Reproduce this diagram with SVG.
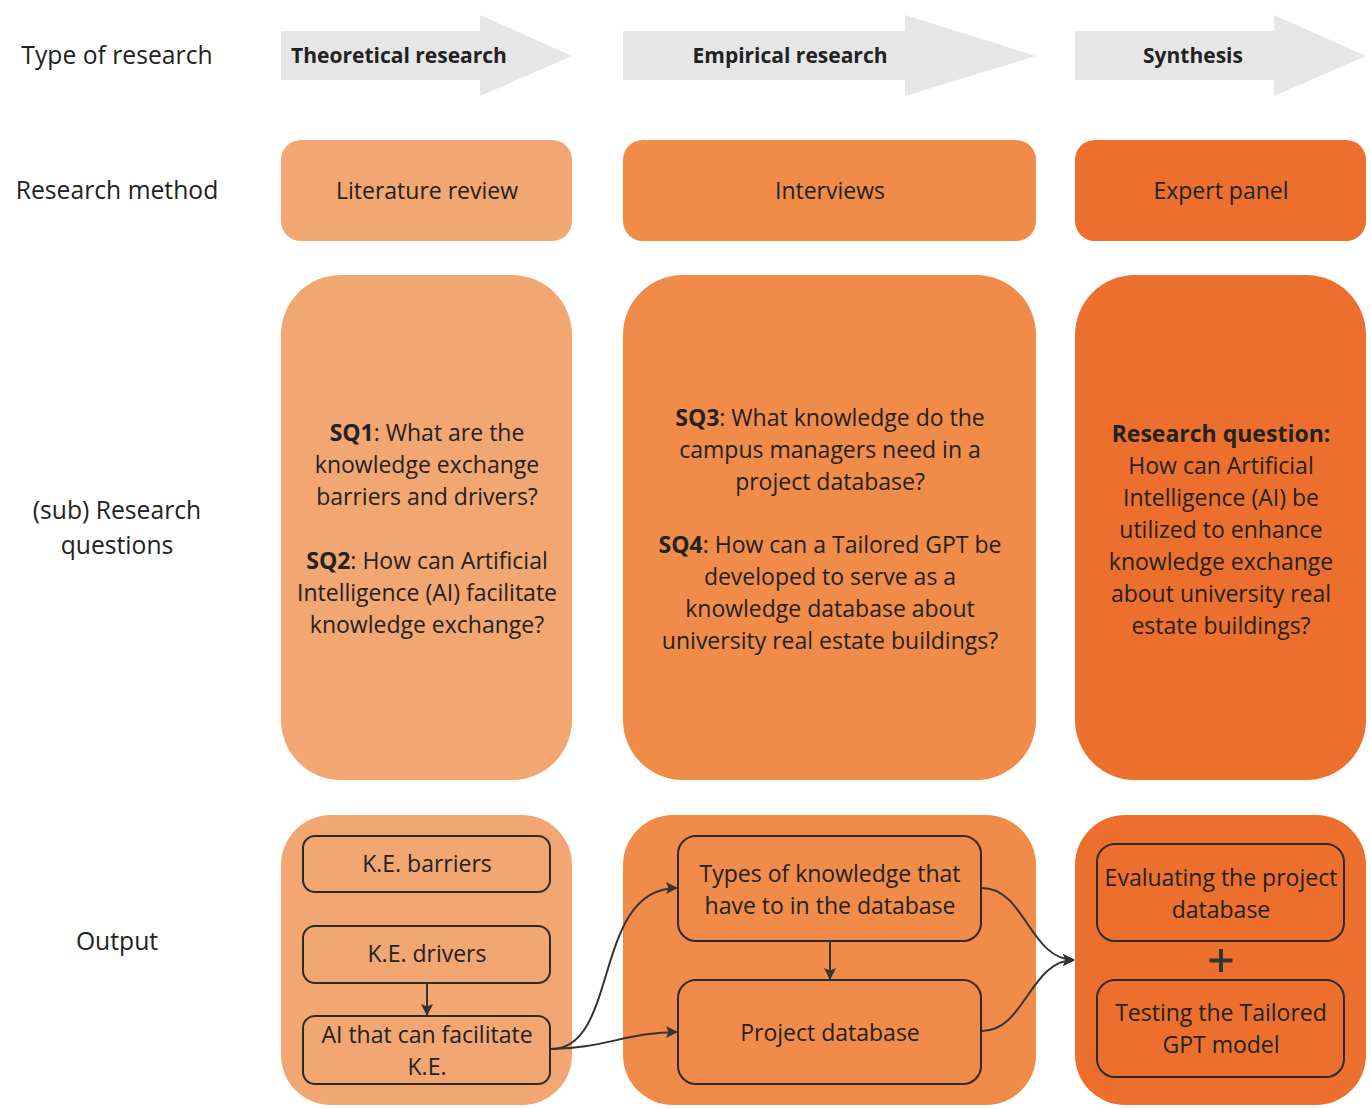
<svg xmlns="http://www.w3.org/2000/svg" width="1371" height="1109" viewBox="0 0 1371 1109">
  <style>
    text { font-family: "Open Sans", "Noto Sans", "Liberation Sans", sans-serif; fill: #222; }
    .lbl { font-size: 24.7px; text-anchor: middle; }
    .hd { font-size: 21px; font-weight: bold; text-anchor: middle; }
    .t { font-size: 23px; text-anchor: middle; }
    .b { font-weight: bold; }
    .banner { fill: #e6e6e6; }
    .c1 { fill: #f2a672; }
    .c2 { fill: #f08b4a; }
    .c3 { fill: #ec6f2e; }
    .box { fill: none; stroke: #2b2b2b; stroke-width: 2; }
    .edge { fill: none; stroke: #333; stroke-width: 2; marker-end: url(#ah); }
  </style>
  <defs>
    <marker id="ah" viewBox="0 0 12 12" refX="11" refY="6" markerWidth="12" markerHeight="12" orient="auto" markerUnits="userSpaceOnUse">
      <path d="M0,0 L12,6 L0,12 L2.5,6 z" fill="#333"/>
    </marker>
  </defs>

  <rect width="1371" height="1109" fill="#ffffff"/>

  <!-- row labels -->
  <g id="row-labels">
    <text class="lbl" x="117" y="64">Type of research</text>
    <text class="lbl" x="117" y="199">Research method</text>
    <text class="lbl" x="117" y="519">(sub) Research</text>
    <text class="lbl" x="117" y="554">questions</text>
    <text class="lbl" x="117" y="950">Output</text>
  </g>

  <!-- type of research banners -->
  <g id="banner-theoretical">
    <path class="banner" d="M281,31 H480 V15 L572,56 L480,96 V80 H281 z"/>
    <text class="hd" x="399" y="63">Theoretical research</text>
  </g>
  <g id="banner-empirical">
    <path class="banner" d="M623,31 H905 V15 L1036,56 L905,96 V80 H623 z"/>
    <text class="hd" x="790" y="63">Empirical research</text>
  </g>
  <g id="banner-synthesis">
    <path class="banner" d="M1075,31 H1274 V15 L1366,56 L1274,96 V80 H1075 z"/>
    <text class="hd" x="1193" y="63">Synthesis</text>
  </g>

  <!-- research methods -->
  <g id="method-literature">
    <rect class="c1" x="281" y="140" width="291" height="101" rx="20"/>
    <text class="t" x="427" y="199">Literature review</text>
  </g>
  <g id="method-interviews">
    <rect class="c2" x="623" y="140" width="413" height="101" rx="20"/>
    <text class="t" x="830" y="199">Interviews</text>
  </g>
  <g id="method-expert">
    <rect class="c3" x="1075" y="140" width="291" height="101" rx="20"/>
    <text class="t" x="1221" y="199">Expert panel</text>
  </g>

  <!-- research questions -->
  <g id="rq-theoretical">
    <rect class="c1" x="281" y="275" width="291" height="505" rx="60"/>
    <text class="t" x="427" y="441"><tspan class="b">SQ1</tspan>: What are the</text>
    <text class="t" x="427" y="473">knowledge exchange</text>
    <text class="t" x="427" y="505">barriers and drivers?</text>
    <text class="t" x="427" y="569"><tspan class="b">SQ2</tspan>: How can Artificial</text>
    <text class="t" x="427" y="601">Intelligence (AI) facilitate</text>
    <text class="t" x="427" y="633">knowledge exchange?</text>
  </g>
  <g id="rq-empirical">
    <rect class="c2" x="623" y="275" width="413" height="505" rx="60"/>
    <text class="t" x="830" y="426"><tspan class="b">SQ3</tspan>: What knowledge do the</text>
    <text class="t" x="830" y="458">campus managers need in a</text>
    <text class="t" x="830" y="490">project database?</text>
    <text class="t" x="830" y="553"><tspan class="b">SQ4</tspan>: How can a Tailored GPT be</text>
    <text class="t" x="830" y="585">developed to serve as a</text>
    <text class="t" x="830" y="617">knowledge database about</text>
    <text class="t" x="830" y="649">university real estate buildings?</text>
  </g>
  <g id="rq-synthesis">
    <rect class="c3" x="1075" y="275" width="291" height="505" rx="60"/>
    <text class="t b" x="1221" y="442">Research question:</text>
    <text class="t" x="1221" y="474">How can Artificial</text>
    <text class="t" x="1221" y="506">Intelligence (AI) be</text>
    <text class="t" x="1221" y="538">utilized to enhance</text>
    <text class="t" x="1221" y="570">knowledge exchange</text>
    <text class="t" x="1221" y="602">about university real</text>
    <text class="t" x="1221" y="634">estate buildings?</text>
  </g>

  <!-- output panels -->
  <g id="out-theoretical">
    <rect class="c1" x="281" y="815" width="291" height="290" rx="50"/>
  </g>
  <g id="out-empirical">
    <rect class="c2" x="623" y="815" width="413" height="290" rx="50"/>
  </g>
  <g id="out-synthesis">
    <rect class="c3" x="1075" y="815" width="291" height="290" rx="50"/>
  </g>

  <!-- output items -->
  <g id="ke-barriers">
    <rect class="box" x="303" y="836" width="247" height="56" rx="12"/>
    <text class="t" x="427" y="872">K.E. barriers</text>
  </g>
  <g id="ke-drivers">
    <rect class="box" x="303" y="926" width="247" height="57" rx="12"/>
    <text class="t" x="427" y="962">K.E. drivers</text>
  </g>
  <g id="ai-facilitate">
    <rect class="box" x="303" y="1016" width="247" height="68" rx="12"/>
    <text class="t" x="427" y="1043">AI that can facilitate</text>
    <text class="t" x="427" y="1075">K.E.</text>
  </g>
  <g id="knowledge-types">
    <rect class="box" x="678" y="836" width="303" height="105" rx="18"/>
    <text class="t" x="830" y="882">Types of knowledge that</text>
    <text class="t" x="830" y="914">have to in the database</text>
  </g>
  <g id="project-db">
    <rect class="box" x="678" y="980" width="303" height="104" rx="18"/>
    <text class="t" x="830" y="1041">Project database</text>
  </g>
  <g id="evaluating">
    <rect class="box" x="1097" y="844" width="247" height="97" rx="18"/>
    <text class="t" x="1221" y="886">Evaluating the project</text>
    <text class="t" x="1221" y="918">database</text>
  </g>
  <g id="plus">
    <path d="M1221,949 V972 M1209.5,960.5 H1232.5" stroke="#333" stroke-width="4" fill="none"/>
  </g>
  <g id="testing">
    <rect class="box" x="1097" y="980" width="247" height="97" rx="18"/>
    <text class="t" x="1221" y="1021">Testing the Tailored</text>
    <text class="t" x="1221" y="1053">GPT model</text>
  </g>

  <!-- connectors -->
  <g id="connectors">
    <path class="edge" d="M427,983 V1015"/>
    <path class="edge" d="M830,941 V979"/>
    <path class="edge" d="M551,1049 C620,1049 592,888 677,888"/>
    <path class="edge" d="M551,1049 C600,1049 630,1032 677,1032"/>
    <path class="edge" d="M982,888 C1025,888 1030,960 1074,960"/>
    <path class="edge" d="M982,1031 C1025,1031 1030,960 1074,960"/>
  </g>
</svg>
